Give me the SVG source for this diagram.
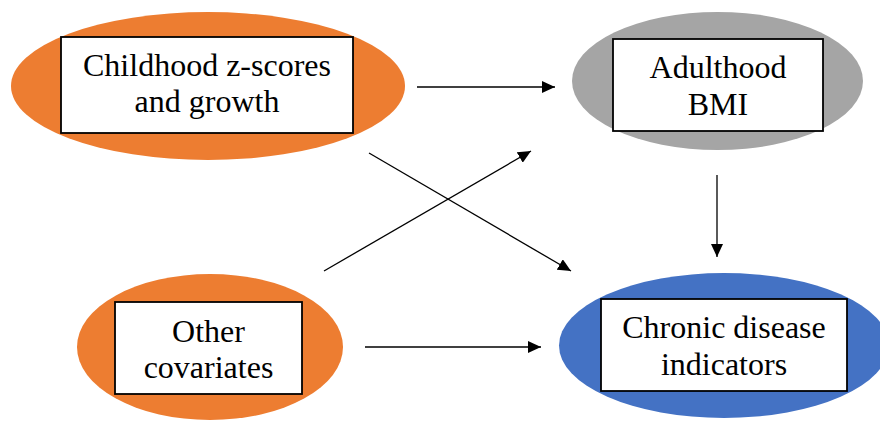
<svg xmlns="http://www.w3.org/2000/svg" width="880" height="421" viewBox="0 0 880 421">
<style>
.box{fill:#fff;stroke:#000;stroke-width:1.8}
.t{font-family:"Liberation Serif","Times New Roman",serif;font-size:32px;fill:#000;text-anchor:middle}
.c{stroke:#000;stroke-width:1.3;fill:none;marker-end:url(#ah)}
</style>
<defs>
<marker id="ah" markerUnits="userSpaceOnUse" markerWidth="14" markerHeight="12" refX="13" refY="6" orient="auto">
<path d="M0,0 L13,6 L0,12 Z" fill="#000"/>
</marker>
</defs>
<rect width="880" height="421" fill="#fff"/>
<g id="childhood">
<ellipse cx="208" cy="86" rx="197" ry="74" fill="#ED7D31"/>
<rect class="box" x="61" y="37" width="292" height="96"/>
<text class="t" x="207" y="76">Childhood z-scores</text>
<text class="t" x="207" y="112">and growth</text>
</g>
<g id="adulthood">
<ellipse cx="717.5" cy="81" rx="145.5" ry="69" fill="#A5A5A5"/>
<rect class="box" x="613" y="39" width="210" height="92"/>
<text class="t" x="718" y="78">Adulthood</text>
<text class="t" x="718" y="115">BMI</text>
</g>
<g id="covariates">
<ellipse cx="210" cy="347" rx="133" ry="73" fill="#ED7D31"/>
<rect class="box" x="115" y="302" width="187" height="92"/>
<text class="t" x="208.5" y="342">Other</text>
<text class="t" x="208.5" y="378">covariates</text>
</g>
<g id="chronic">
<ellipse cx="724" cy="345.5" rx="165" ry="72.5" fill="#4472C4"/>
<rect class="box" x="601" y="299" width="246" height="92"/>
<text class="t" x="724" y="338">Chronic disease</text>
<text class="t" x="724" y="375">indicators</text>
</g>
<g id="connectors">
<line class="c" x1="417" y1="87" x2="555" y2="87"/>
<line class="c" x1="717" y1="175" x2="717" y2="257"/>
<line class="c" x1="369" y1="153" x2="571" y2="271"/>
<line class="c" x1="324" y1="271" x2="531" y2="151"/>
<line class="c" x1="365" y1="347" x2="541" y2="347"/>
</g>
</svg>
